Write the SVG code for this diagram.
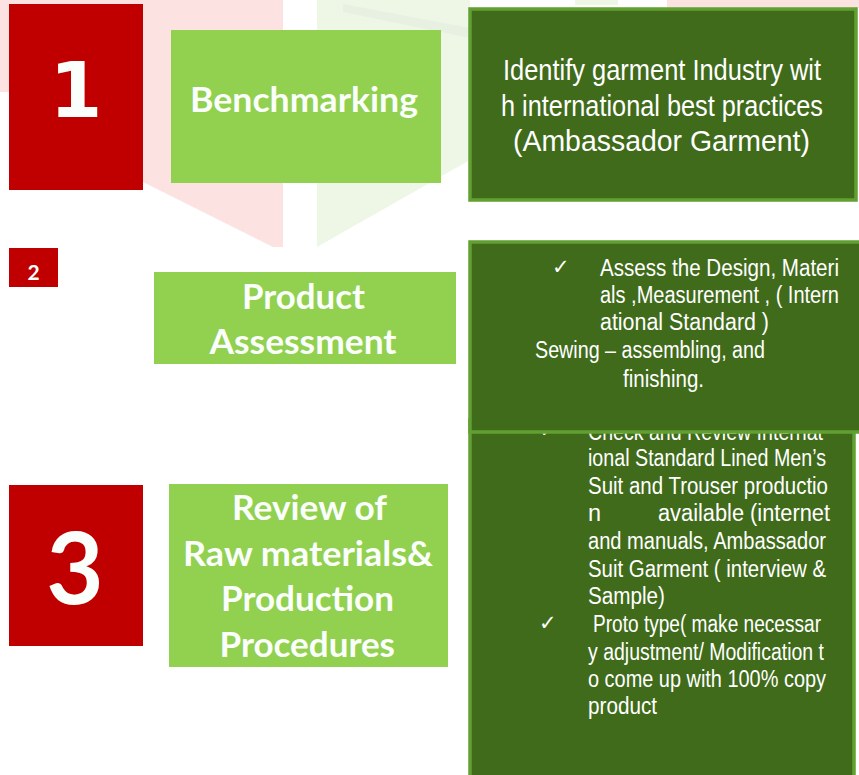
<svg xmlns="http://www.w3.org/2000/svg" width="859" height="775" viewBox="0 0 859 775">
  <style>
    .red { fill: #c00000; }
    .lg { fill: #92d050; }
    .dg { fill: #406b1b; stroke: #62a032; stroke-width: 3.5; }
    .num { fill: #fbfffb; font-family: "DejaVu Sans", sans-serif; font-weight: 700; text-anchor: middle; }
    .lab { fill: #fbfffb; font-family: Lato, "Open Sans", sans-serif; font-weight: 700; }
    .body { fill: #ffffff; font-family: "Liberation Sans", Arial, sans-serif; }
    .chk { fill: #ffffff; font-family: "DejaVu Sans", sans-serif; font-size: 21px; }
  </style>

  <g id="watermark">
    <polygon points="0,0 283,0 283,247 273,247 143,182 143,95 0,92" fill="#fde2e2"/>
    <polygon points="317,0 470,0 470,160 317,247" fill="#eef7e6"/>
    <polygon points="343,4 470,28 470,38 343,12" fill="#e8f0e2"/>
    <rect x="667" y="0" width="192" height="8" fill="#fde2e2"/>
    <rect x="575" y="0" width="43" height="5" fill="#eef7e6"/>
  </g>

  <g id="step3-detail">
    <rect class="dg" x="470" y="420" width="384" height="400"/>
    <text class="chk" x="539" y="437">✓</text>
    <g class="body" font-size="23.5">
      <text x="588" y="440" textLength="235" lengthAdjust="spacingAndGlyphs">Check and Review  Internat</text>
      <text x="588" y="466" textLength="238" lengthAdjust="spacingAndGlyphs">ional  Standard Lined Men’s</text>
      <text x="588" y="493.5" textLength="240" lengthAdjust="spacingAndGlyphs">Suit and Trouser  productio</text>
      <text x="588" y="521">n</text>
      <text x="658" y="521" textLength="172" lengthAdjust="spacingAndGlyphs">available (internet</text>
      <text x="588" y="549" textLength="238" lengthAdjust="spacingAndGlyphs">and  manuals, Ambassador</text>
      <text x="588" y="577" textLength="238" lengthAdjust="spacingAndGlyphs">Suit Garment  ( interview &amp;</text>
      <text x="588" y="604" textLength="77" lengthAdjust="spacingAndGlyphs">Sample)</text>
      <text x="593" y="632" textLength="228" lengthAdjust="spacingAndGlyphs">Proto type( make necessar</text>
      <text x="588" y="659.5" textLength="236" lengthAdjust="spacingAndGlyphs">y adjustment/ Modification  t</text>
      <text x="588" y="687" textLength="238" lengthAdjust="spacingAndGlyphs">o come up with 100% copy</text>
      <text x="588" y="713.5" textLength="69" lengthAdjust="spacingAndGlyphs">product</text>
    </g>
    <text class="chk" x="539" y="630">✓</text>
  </g>

  <g id="step1-number">
    <rect class="red" x="9" y="4" width="134" height="186"/>
    <text class="num" x="76" y="117" font-size="76">1</text>
  </g>
  <g id="step1-label">
    <rect class="lg" x="171" y="30" width="270" height="153"/>
    <text class="lab" x="190" y="112" font-size="34" textLength="228" lengthAdjust="spacingAndGlyphs">Benchmarking</text>
  </g>
  <g id="step1-detail">
    <rect class="dg" x="470" y="9" width="386" height="191"/>
    <g class="body" font-size="29">
      <text x="503" y="80" textLength="318" lengthAdjust="spacingAndGlyphs">Identify garment Industry wit</text>
      <text x="501" y="115.5" textLength="322" lengthAdjust="spacingAndGlyphs">h international best practices</text>
      <text x="513" y="151" textLength="297" lengthAdjust="spacingAndGlyphs">(Ambassador Garment)</text>
    </g>
  </g>

  <g id="step2-number">
    <rect class="red" x="9" y="248" width="49" height="39"/>
    <text class="lab" x="33.5" y="279.5" font-size="21" text-anchor="middle">2</text>
  </g>
  <g id="step2-label">
    <rect class="lg" x="154" y="272" width="302" height="92"/>
    <text class="lab" x="242" y="308.5" font-size="35" textLength="123" lengthAdjust="spacingAndGlyphs">Product</text>
    <text class="lab" x="209.5" y="353.5" font-size="35" textLength="187" lengthAdjust="spacingAndGlyphs">Assessment</text>
  </g>
  <g id="step2-detail">
    <rect class="dg" x="470" y="242" width="394" height="190"/>
    <text class="chk" x="552" y="274">✓</text>
    <g class="body" font-size="23.5">
      <text x="600" y="275.5" textLength="239" lengthAdjust="spacingAndGlyphs">Assess the Design, Materi</text>
      <text x="600" y="303" textLength="239" lengthAdjust="spacingAndGlyphs">als ,Measurement , ( Intern</text>
      <text x="600" y="330" textLength="169" lengthAdjust="spacingAndGlyphs">ational Standard )</text>
      <text x="535" y="358" textLength="230" lengthAdjust="spacingAndGlyphs">Sewing – assembling, and</text>
      <text x="623" y="387" textLength="81" lengthAdjust="spacingAndGlyphs">finishing.</text>
    </g>
  </g>

  <g id="step3-number">
    <rect class="red" x="9" y="485" width="134" height="161"/>
    <text class="lab" x="75" y="604" font-size="99" font-weight="600" text-anchor="middle">3</text>
  </g>
  <g id="step3-label">
    <rect class="lg" x="169" y="484" width="279" height="183"/>
    <text class="lab" x="232" y="520" font-size="35" textLength="155" lengthAdjust="spacingAndGlyphs">Review of</text>
    <text class="lab" x="183" y="566" font-size="35" textLength="250" lengthAdjust="spacingAndGlyphs">Raw materials&amp;</text>
    <text class="lab" x="221" y="611" font-size="35" textLength="173" lengthAdjust="spacingAndGlyphs">Production</text>
    <text class="lab" x="219.5" y="657" font-size="35" textLength="175.5" lengthAdjust="spacingAndGlyphs">Procedures</text>
  </g>

  <g id="connectors"></g>
</svg>
